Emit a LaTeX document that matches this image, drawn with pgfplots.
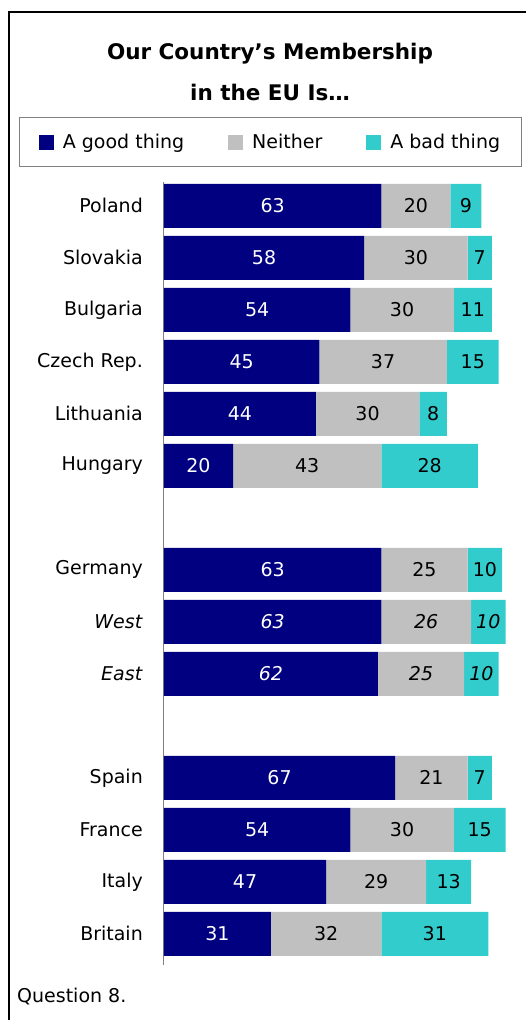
\documentclass[border=0pt]{standalone}
\usepackage{pgfplots}
\pgfplotsset{compat=1.18}
\usepackage{pgfplotstable}
\usepackage{fontspec}
\setmainfont{DejaVu Sans}
\definecolor{good}{HTML}{000080}
\definecolor{neither}{HTML}{C0C0C0}
\definecolor{bad}{HTML}{33CCCC}
\pgfplotstableread{
idx good neither bad
0 63 20 9
1 58 30 7
2 54 30 11
3 45 37 15
4 44 30 8
5 20 43 28
7 63 25 10
8 63 26 10
9 62 25 10
11 67 21 7
12 54 30 15
13 47 29 13
14 31 32 31
}\data
\newcommand\lf{\fontsize{19}{22}\selectfont}
\pgfplotsset{
  common/.style={
    at={(164pt,55pt)}, anchor=south west, scale only axis,
    width=345pt, height=782.6pt,
    xmin=0, xmax=100, ymin=-0.45, ymax=14.6, y dir=reverse,
  }
}
\begin{document}
\begin{tikzpicture}[x=1pt,y=1pt]
\useasboundingbox (0,0) rectangle (526,1020);
\draw[line width=2pt] (9,-2) -- (9,1008) -- (528,1008);
\node[font=\bfseries\fontsize{21.5}{24}\selectfont] at (270,966) {Our Country's Membership};
\node[font=\bfseries\fontsize{21.5}{24}\selectfont] at (270,928) {in the EU Is\ldots};
\node[font=\lf, anchor=west, inner sep=0pt] at (17,23) {Question 8.};
\begin{axis}[common,
  xbar stacked, bar width=44pt,
  axis x line=none, axis y line*=left,
  y axis line style={draw=gray, line width=1pt},
  ytick={0,1,2,3,4,5,7,8,9,11,12,13,14},
  yticklabels={Poland,Slovakia,Bulgaria,Czech Rep.,Lithuania,Hungary,Germany,\textit{West},\textit{East},Spain,France,Italy,Britain},
  major tick length=0pt,
  yticklabel style={font=\lf, inner xsep=0pt, xshift=-21pt},
  legend columns=3,
  legend cell align=left,
  legend image code/.code={\fill[#1] (0pt,-7.5pt) rectangle (15pt,7.5pt);},
  legend style={at={(axis description cs:0.3087,1.0516)}, anchor=center,
    draw=gray, line width=1pt, font=\lf, inner xsep=19.5pt, inner ysep=14.5pt,
    /tikz/every odd column/.append style={column sep=7pt},
    /tikz/every even column/.append style={column sep=42pt},
  },
]
\addplot[fill=good, draw=none] table[x=good, y=idx]{\data};
\addlegendentry{A good thing}
\addplot[fill=neither, draw=none] table[x=neither, y=idx]{\data};
\addlegendentry{Neither}
\addplot[fill=bad, draw=none] table[x=bad, y=idx]{\data};
\addlegendentry{A bad thing}
\end{axis}
\begin{axis}[common, hide axis, clip=false,
  point meta=explicit,
  /pgf/number format/assume math mode=true,
  visualization depends on={\thisrow{idx}\as\rowidx},
  nodes near coords={\lf\ifdim\rowidx pt>7.5pt \ifdim\rowidx pt<9.5pt \itshape\fi\fi\pgfmathprintnumber{\pgfplotspointmeta}},
  nodes near coords style={anchor=center, inner sep=0pt},
]
\addplot[draw=none, no markers, nodes near coords style={text=white}] table[x expr=\thisrow{good}/2, y=idx, meta=good]{\data};
\addplot[draw=none, no markers, nodes near coords style={text=black}] table[x expr=\thisrow{good}+\thisrow{neither}/2, y=idx, meta=neither]{\data};
\addplot[draw=none, no markers, nodes near coords style={text=black}] table[x expr=\thisrow{good}+\thisrow{neither}+\thisrow{bad}/2, y=idx, meta=bad]{\data};
\end{axis}
\end{tikzpicture}
\end{document}
